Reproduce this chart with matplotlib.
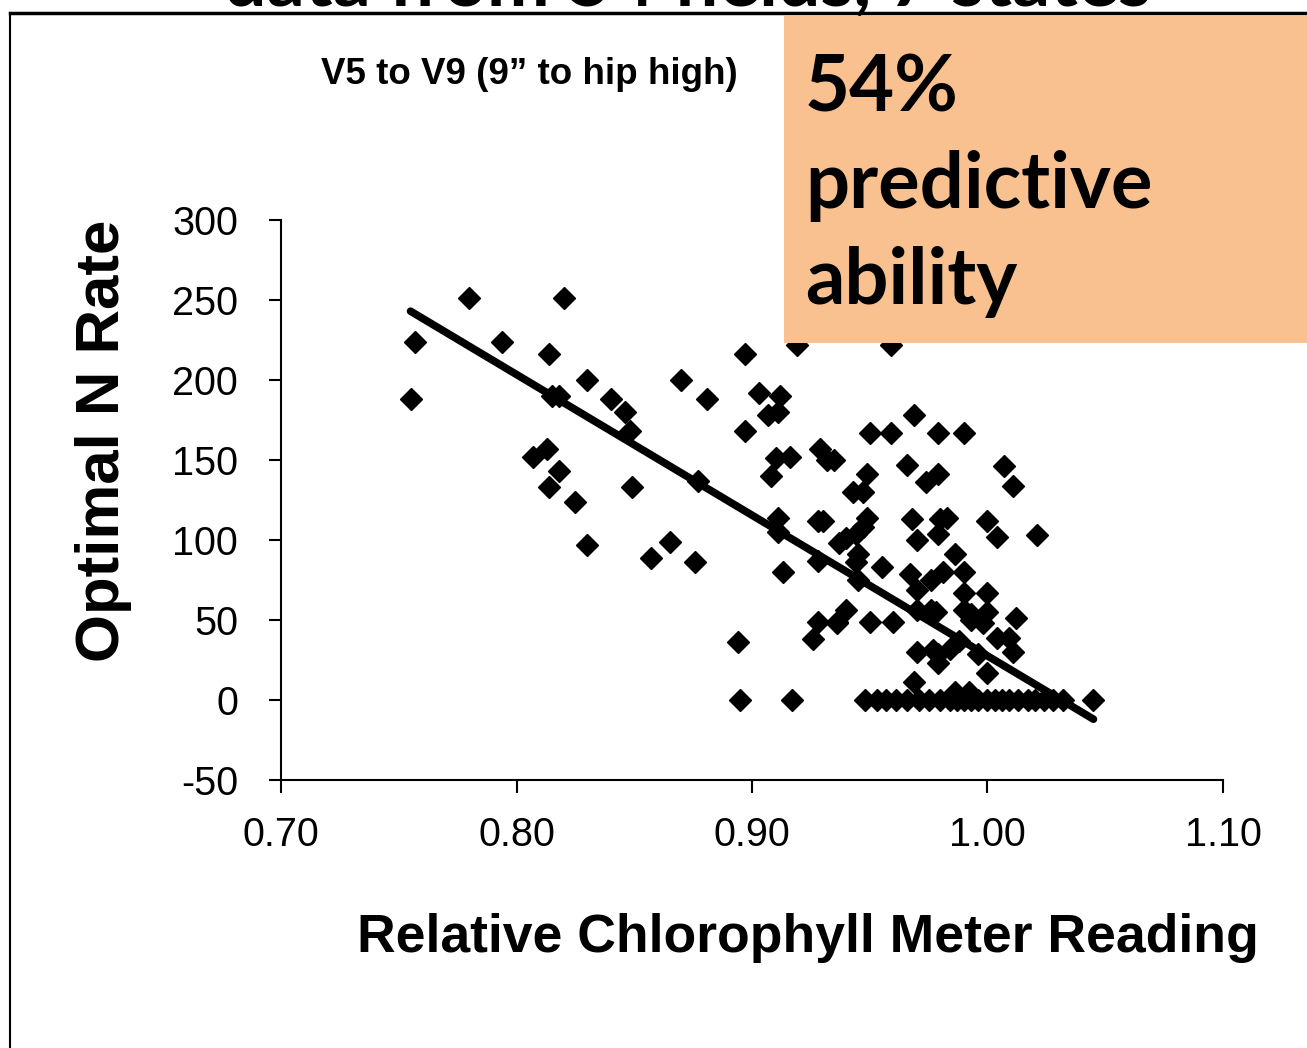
import numpy as np
import matplotlib
matplotlib.use("Agg")
import matplotlib.pyplot as plt
from matplotlib.patches import Rectangle
from matplotlib.lines import Line2D

# relative chlorophyll meter reading vs optimal N rate
reading = [
    0.755, 0.757, 0.780, 0.794, 0.820, 0.814, 0.815, 0.818, 0.830, 0.840,
    0.846, 0.848, 0.813, 0.807, 0.818, 0.814, 0.825, 0.830, 0.849, 0.857,
    0.865, 0.876, 0.877, 0.870, 0.881, 0.897, 0.897, 0.903, 0.907, 0.911,
    0.912, 0.894, 0.895, 0.917, 0.919, 0.959,
    0.910, 0.916, 0.908, 0.929, 0.932, 0.935, 0.911, 0.911, 0.913, 0.928,
    0.930, 0.928, 0.937, 0.928, 0.926, 0.936,
    0.969, 0.950, 0.959, 0.979, 0.990, 0.949, 0.966, 0.974, 0.979, 0.943,
    0.947,
    0.949, 0.947, 0.944, 0.940, 0.968, 0.980, 0.983, 0.970, 0.979, 0.986,
    0.945, 0.955, 0.967, 0.976, 0.981, 0.990, 0.970, 0.990, 1.000, 0.945,
    0.944, 0.940, 0.936, 0.950, 0.960, 0.970, 0.976, 0.993, 0.978, 0.990,
    1.000, 1.012, 0.993, 0.998, 0.988, 1.004, 1.009, 1.011, 0.996, 0.979,
    0.984, 0.970, 0.977, 0.979, 1.000, 0.969, 0.986, 0.992,
    1.007, 1.011, 1.000, 1.004, 1.021,
    0.948, 0.953, 0.957, 0.961, 0.966, 0.971, 0.975, 0.980, 0.984, 0.987,
    0.990, 0.993, 0.996, 1.000, 1.003, 1.006, 1.009, 1.013, 1.017, 1.020,
    1.024, 1.028, 1.032, 1.045,
]
n_rate = [
    188, 224, 251, 224, 251, 216, 190, 190, 200, 188,
    180, 168, 157, 152, 143, 133, 124, 97, 133, 89,
    99, 86, 137, 200, 188, 216, 168, 192, 178, 180,
    190, 36, 0, 0, 222, 222,
    151, 152, 140, 157, 150, 150, 114, 105, 80, 112,
    112, 87, 98, 49, 38, 48,
    178, 167, 167, 167, 167, 141, 147, 136, 141, 130,
    130,
    114, 108, 104, 101, 113, 113, 114, 100, 104, 91,
    91, 83, 79, 75, 80, 80, 69, 67, 67, 75,
    86, 56, 49, 49, 49, 56, 56, 54, 55, 56,
    55, 51, 50, 48, 37, 39, 39, 30, 29, 29,
    32, 30, 31, 23, 17, 11, 5, 5,
    146, 134, 112, 102, 103,
    0, 0, 0, 0, 0, 0, 0, 0, 0, 0,
    0, 0, 0, 0, 0, 0, 0, 0, 0, 0,
    0, 0, 0, 0,
]

# linear trend line ends
trend_x = [0.755, 1.045]
trend_y = [243, -12]

x_ticks = [0.70, 0.80, 0.90, 1.00, 1.10]
y_ticks = [-50, 0, 50, 100, 150, 200, 250, 300]

plt.rcParams["font.family"] = ["Liberation Sans", "DejaVu Sans"]
plt.rcParams["axes.unicode_minus"] = False

fig = plt.figure(figsize=(13.07, 10.48), dpi=100)
W, H = 1307, 1048
ax = fig.add_axes([281 / W, 1 - 780 / H, (1223 - 281) / W, (780 - 220) / H])

ax.plot(reading, n_rate, linestyle="none", marker="D", markersize=11,
        color="black", zorder=3)
ax.plot(trend_x, trend_y, color="black", linewidth=5.5,
        solid_capstyle="round", zorder=4)

ax.set_xlim(0.70, 1.10)
ax.set_ylim(-50, 300)
ax.set_xticks(x_ticks)
ax.set_xticklabels([f"{v:.2f}" for v in x_ticks])
ax.set_yticks(y_ticks)
ax.spines["top"].set_visible(False)
ax.spines["right"].set_visible(False)
for s in ("left", "bottom"):
    ax.spines[s].set_linewidth(1.5)
ax.tick_params(axis="both", labelsize=28.5, width=1.5, length=9, direction="out")
ax.tick_params(axis="y", pad=22)
ax.tick_params(axis="x", pad=17)

fig.text(103 / W, 1 - 441 / H, "Optimal N Rate", rotation=90, fontsize=44.5,
         fontweight="bold", ha="center", va="center")
fig.text(808 / W, 1 - 938 / H, "Relative Chlorophyll Meter Reading",
         fontsize=38.5, fontweight="bold", ha="center", va="center")
fig.text(529 / W, 1 - 74 / H, "V5 to V9 (9\u201d to hip high)", fontsize=26.5,
         fontweight="bold", ha="center", va="center")

# title cut off at the top edge
fig.text(688 / W, 1 - 5 / H, "data from 54 fields, 7 states", fontsize=54,
         fontweight="bold", family=["Lato", "DejaVu Sans"],
         ha="center", va="baseline")

# outer frame
fig.add_artist(Line2D([10 / W, 10 / W], [0, 1 - 13 / H], color="black",
                      linewidth=1.5, transform=fig.transFigure))
fig.add_artist(Line2D([10 / W, 1], [1 - 13 / H, 1 - 13 / H], color="black",
                      linewidth=2.5, transform=fig.transFigure))

# highlighted callout box
box = Rectangle((784 / W, 1 - 343 / H), (W - 784) / W, (343 - 16) / H,
                transform=fig.transFigure, facecolor="#F9C18F",
                edgecolor="none", zorder=5)
fig.add_artist(box)
fig.text(805 / W, 1 - 186 / H, "54%\npredictive\nability", fontsize=56,
         fontweight="bold", family=["Lato", "DejaVu Sans"], ha="left",
         va="center", linespacing=1.42, zorder=6)

fig.savefig("out.png", dpi=100)
